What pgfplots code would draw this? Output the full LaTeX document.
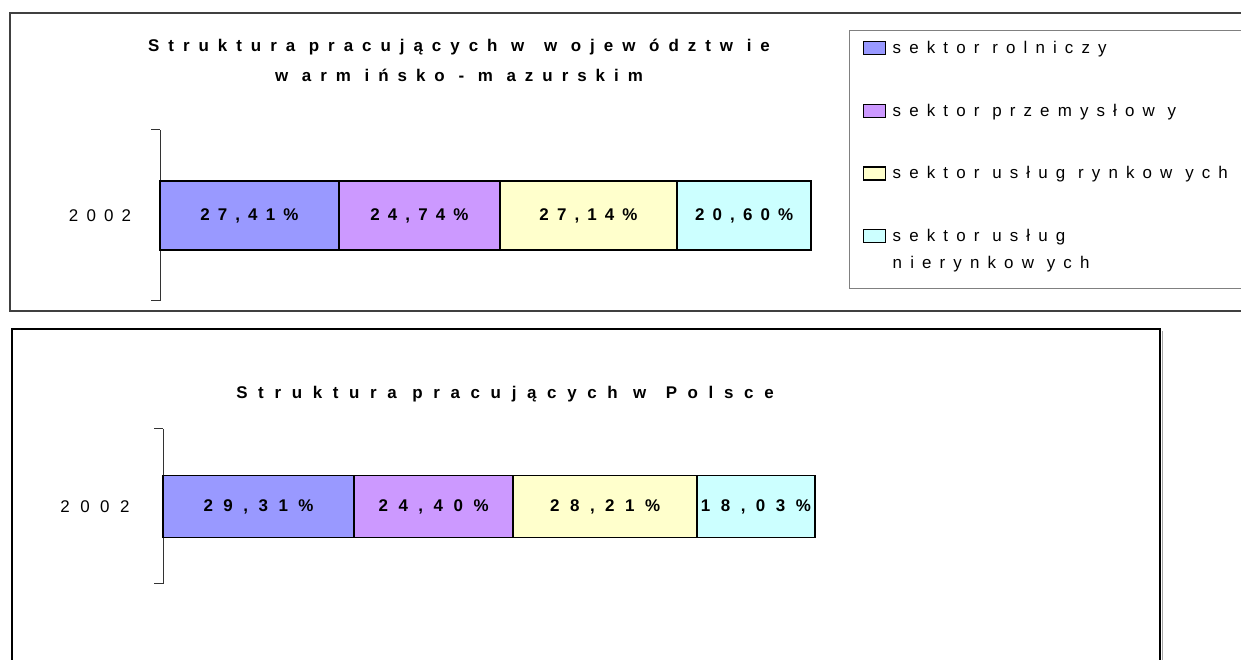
\documentclass[border=0pt]{standalone}
\usepackage{pgfplots}
\pgfplotsset{compat=1.18}
\usepackage{fontspec}
\setmainfont{Liberation Sans}
\definecolor{cA}{HTML}{9999FF}
\definecolor{cB}{HTML}{CC99FF}
\definecolor{cC}{HTML}{FFFFCC}
\definecolor{cD}{HTML}{CCFFFF}
\newcommand\FT{\fontsize{17}{20}\selectfont\addfontfeatures{LetterSpace=48}}
\newcommand\FB{\fontsize{17}{20}\selectfont\addfontfeatures{LetterSpace=62}}
\pgfplotsset{
  mybar/.style={
    xbar stacked, scale only axis, xmin=0, xmax=100, ymin=-0.5, ymax=0.5,
    hide x axis, axis y line*=left,
    y axis line style={line width=1bp, black!80},
    ytick={0}, major tick length=0pt,
    extra y ticks={-0.5,0.5}, extra y tick labels={},
    extra y tick style={major tick length=9bp, tick align=outside, tick style={line width=1bp, black!80}},
    every axis plot/.append style={draw=black, line width=1.8bp},
    visualization depends on={rawx \as \rawx},
    nodes near coords={\pgfmathprintnumber[assume math mode=true,fixed,fixed zerofill,precision=2,use comma]{\rawx}\%},
    every node near coord/.append style={anchor=center, black},
    yticklabel style={anchor=center},
    clip=false,
  }
}
\begin{document}
\begin{tikzpicture}[x=1bp,y=1bp]
\useasboundingbox (0,0) rectangle (1241,660);
\begin{scope}
\clip (0,0) rectangle (1241,660);
\draw[line width=1.3bp, black!75] (10,647) rectangle (1300,349);
\draw[line width=1.3bp, black] (12,331) rectangle (1160,-30);
\draw[line width=1bp, black!35] (1162,329) -- (1162,-30);

\begin{axis}[mybar, at={(160bp,359bp)}, anchor=south west,
  width=652bp, height=171bp, bar width=69bp,
  yticklabels={2002}, yticklabel style={xshift=-60bp, font=\FT},
  every node near coord/.append style={font=\FT\bfseries},
  title={Struktura pracujących w \hspace{6bp}w ojew ództw ie\\w arm ińsko - m azurskim},
  title style={align=center, font=\fontsize{17}{30}\selectfont\addfontfeatures{LetterSpace=53}\bfseries,
    at={(axis description cs:0.5,1)}, anchor=south, yshift=39bp, xshift=-27bp},
  legend style={at={(axis description cs:1.0567,1.5789)}, anchor=north west,
    draw=none, fill=none, font=\fontsize{17}{27}\selectfont\addfontfeatures{LetterSpace=48},
    inner xsep=14bp, inner ysep=8bp, row sep=45bp,
    cells={anchor=base west, inner sep=0bp}},
  legend image code/.code={\draw[#1, line width=1.3bp] (0bp,-1bp) rectangle (22bp,12bp); \path (26bp,0bp);},
]
\addplot[fill=cA] coordinates {(27.41,0)};
\addplot[fill=cB] coordinates {(24.74,0)};
\addplot[fill=cC] coordinates {(27.14,0)};
\addplot[fill=cD] coordinates {(20.60,0)};
\legend{sektor rolniczy, sektor przemysłow y, sektor usług rynkow ych, {\vtop{\hbox{sektor usług}\hbox{nierynkow ych}}}}
\end{axis}
\draw[line width=1bp, black!50] (849,629) rectangle (1300,371);

\begin{axis}[mybar, at={(163bp,76bp)}, anchor=south west,
  width=652bp, height=155bp, bar width=62bp,
  yticklabels={2002}, yticklabel style={xshift=-68bp, font=\FB},
  every node near coord/.append style={font=\FB\bfseries},
  title={Struktura pracujących w \hspace{4bp}Polsce},
  title style={font=\fontsize{17}{30}\selectfont\addfontfeatures{LetterSpace=63}\bfseries,
    at={(axis description cs:0.5,1)}, anchor=south, yshift=17bp, xshift=16bp},
]
\addplot[fill=cA] coordinates {(29.31,0)};
\addplot[fill=cB] coordinates {(24.40,0)};
\addplot[fill=cC] coordinates {(28.21,0)};
\addplot[fill=cD] coordinates {(18.03,0)};
\end{axis}
\end{scope}
\end{tikzpicture}
\end{document}
